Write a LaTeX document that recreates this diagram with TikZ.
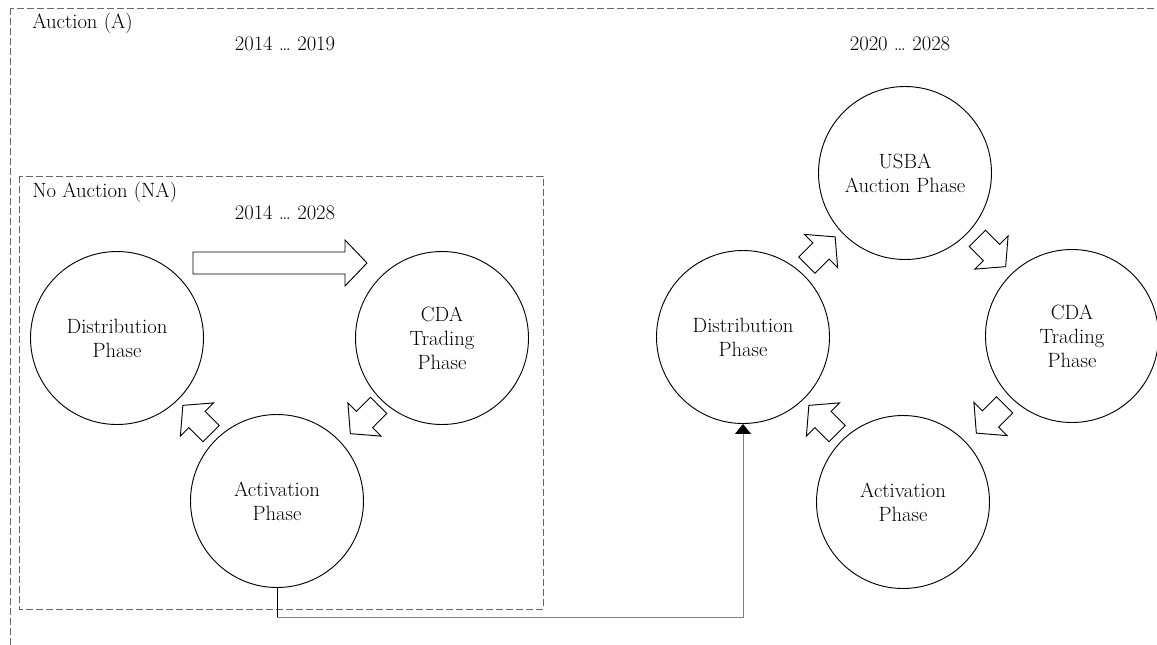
\documentclass[tikz,border=0pt]{standalone}
\usetikzlibrary{arrows.meta,calc}
\begin{document}
\begin{tikzpicture}[x=0.75pt,y=-0.75pt,
  every node/.style={font=\fontsize{15.5}{18}\selectfont},
  phase/.style={draw, circle, minimum size=129.75pt, inner sep=0pt, align=center, line width=0.7pt},
  region/.style={draw=black!60, dash pattern=on 5pt off 2.5pt, line width=0.7pt},
  blockline/.style={draw, fill=white, line width=0.7pt, line join=miter},
  caption/.style={anchor=west, inner sep=0pt},
  years/.style={inner sep=0pt},
  blockarrow/.pic={\path[blockline] (-20,-11.5) -- (0,-11.5) -- (0,-23.5) -- (20,0)
      -- (0,23.5) -- (0,11.5) -- (-20,11.5) -- cycle;},
]
\useasboundingbox (0,0) rectangle (1157,644);
\clip (0,0) rectangle (1157,644);

% regions
\draw[region] (10,8) rectangle (1180,670);
\draw[region] (19,176) rectangle (543,609);
\node[caption] (capA) at (32,23) {Auction (A)};
\node[caption] (capNA) at (32,192) {No Auction (NA)};
\node[years] (yA) at (285,44) {2014 \dots\ 2019};
\node[years] (yNA) at (285,213) {2014 \dots\ 2028};
\node[years] (yB) at (900,44) {2020 \dots\ 2028};

% phases without auction
\node[phase] (d1) at (117,338) {Distribution\\Phase};
\node[phase] (c1) at (442,338) {CDA\\Trading\\Phase};
\node[phase] (a1) at (277,501) {Activation\\Phase};

% phases with auction
\node[phase] (u2) at (905,173) {USBA\\Auction Phase};
\node[phase] (d2) at (743,337) {Distribution\\Phase};
\node[phase] (c2) at (1072,336) {CDA\\Trading\\Phase};
\node[phase] (a2) at (903,502) {Activation\\Phase};

% cycle arrows
\path[blockline] (193,252) -- (345,252) -- (345,240) -- (367,263) -- (345,286)
  -- (345,274) -- (193,274) -- cycle;
\pic[rotate=225] at ($(c1)!0.5!(a1)+(5,0)$) {blockarrow};
\pic[rotate=135] at ($(a1)!0.5!(d1)$) {blockarrow};
\pic[rotate=45] at ($(d2)!0.5!(u2)+(-3,-4)$) {blockarrow};
\pic[rotate=-45] at ($(u2)!0.5!(c2)+(3,-2)$) {blockarrow};
\pic[rotate=225] at ($(c2)!0.5!(a2)+(3,0)$) {blockarrow};
\pic[rotate=135] at ($(a2)!0.5!(d2)$) {blockarrow};

% transition from the no-auction cycle to the auction cycle
\coordinate (low) at (0,617);
\draw[black, line width=0.7pt] (a1.south) -- (a1.south |- low) coordinate (bend);
\draw[black!50, line width=0.7pt, -{Triangle[width=12pt,length=7.5pt,color=black]}]
  (bend) -| (d2.south);
\end{tikzpicture}
\end{document}
